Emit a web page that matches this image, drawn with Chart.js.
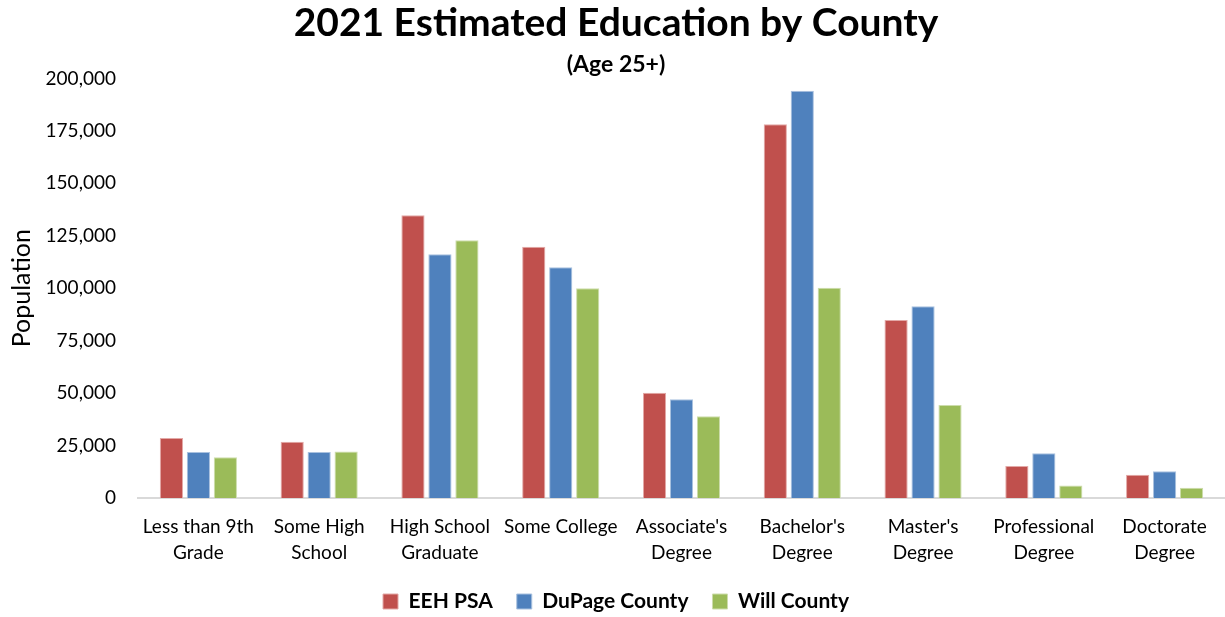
<!DOCTYPE html>
<html>
<head>
<meta charset="utf-8">
<script src="https://cdn.jsdelivr.net/npm/chart.js@4.4.1/dist/chart.umd.min.js"></script>
<style>
html,body{margin:0;padding:0;background:#fff;}
#wrap{width:1225px;height:617px;position:relative;}
</style>
</head>
<body>
<div id="wrap"><canvas id="c"></canvas></div>
<script>
const categories = [
  ["Less than 9th","Grade"],
  ["Some High","School"],
  ["High School","Graduate"],
  ["Some College"],
  ["Associate's","Degree"],
  ["Bachelor's","Degree"],
  ["Master's","Degree"],
  ["Professional","Degree"],
  ["Doctorate","Degree"]
];
const eehPSA = [28600, 26800, 134800, 119800, 50200, 178100, 84800, 15200, 11000];
const duPage = [21900, 21900, 116200, 110000, 47100, 194100, 91400, 21300, 12700];
const willCounty = [19400, 22100, 122900, 100000, 39000, 100200, 44300, 5900, 4800];
const yTicks = [0, 25000, 50000, 75000, 100000, 125000, 150000, 175000, 200000];

const FONT = "Lato, 'Liberation Sans', sans-serif";

new Chart(document.getElementById('c'), {
  type: 'bar',
  data: {
    labels: categories,
    datasets: [
      {label: 'EEH PSA', data: eehPSA, backgroundColor: '#C0504D', borderColor: '#E3A9A7', borderWidth: 1},
      {label: 'DuPage County', data: duPage, backgroundColor: '#4F81BD', borderColor: '#A9C1DF', borderWidth: 1},
      {label: 'Will County', data: willCounty, backgroundColor: '#9BBB59', borderColor: '#CDDDAC', borderWidth: 1}
    ]
  },
  options: {
    responsive: true,
    maintainAspectRatio: false,
    animation: false,
    layout: {padding: {left: 7, right: 0, top: 0, bottom: -5}},
    datasets: {bar: {categoryPercentage: 0.67, barPercentage: 0.86}},
    plugins: {
      title: {
        display: true,
        text: '2021 Estimated Education by County',
        color: '#000',
        font: {family: FONT, size: 39, weight: 'bold', lineHeight: 1.2},
        padding: {top: 0, bottom: 4}
      },
      subtitle: {
        display: true,
        text: '(Age 25+)',
        color: '#000',
        font: {family: FONT, size: 23, weight: 'bold', lineHeight: 1.2},
        padding: {top: 0, bottom: 0}
      },
      legend: {
        position: 'bottom',
        labels: {
          color: '#000',
          font: {family: FONT, size: 21, weight: 'bold'},
          boxWidth: 15,
          boxHeight: 15,
          padding: 24
        }
      },
      tooltip: {enabled: false}
    },
    scales: {
      x: {
        grid: {display: false, drawTicks: false},
        border: {display: true, color: '#D9D9D9', width: 2},
        afterFit: (s) => { s.paddingLeft = 0; s.paddingRight = 0; s.height -= 15; },
        ticks: {
          color: '#000',
          font: {family: FONT, size: 19, lineHeight: 1.37},
          padding: 16,
          maxRotation: 0,
          autoSkip: false
        }
      },
      y: {
        min: 0,
        max: 200000,
        afterBuildTicks: (axis) => { axis.ticks = yTicks.map(v => ({value: v})); },
        afterFit: (s) => { s.width = 131; },
        grid: {display: false, drawTicks: false},
        border: {display: false},
        title: {
          display: true,
          text: 'Population',
          color: '#000',
          font: {family: FONT, size: 25},
          padding: {top: 0, bottom: 10}
        },
        ticks: {
          color: '#000',
          font: {family: FONT, size: 19},
          padding: 22,
          callback: (v) => v.toLocaleString('en-US')
        }
      }
    }
  }
});
</script>
</body>
</html>
